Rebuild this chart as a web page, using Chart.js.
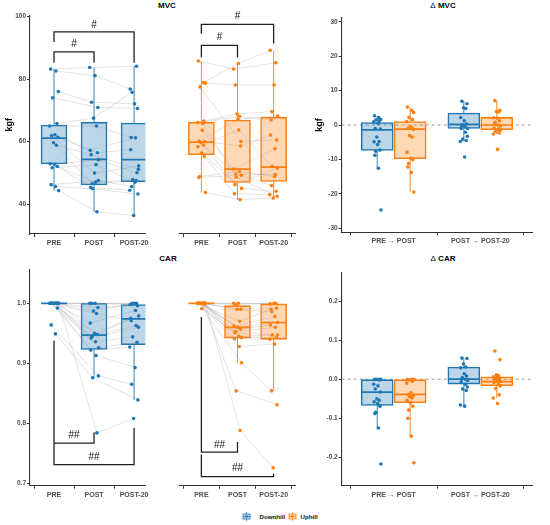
<!DOCTYPE html>
<html>
<head>
<meta charset="utf-8">
<script src="https://cdn.jsdelivr.net/npm/chart.js@4.4.1/dist/chart.umd.min.js"></script>
<style>
body{margin:0;background:#fff;width:550px;height:525px;position:relative;overflow:hidden;font-family:"Liberation Sans",Arial,sans-serif}
canvas{position:absolute}
.ttl{position:absolute;transform:translateX(-50%);font-weight:bold;font-size:8px;line-height:10px;color:#000;white-space:nowrap}
.ttl span{font-weight:normal}
.lg{position:absolute;font-weight:bold;font-size:6.2px;line-height:9px;color:#111;white-space:nowrap}
</style>
</head>
<body>
<div class="ttl" style="left:167px;top:1px">MVC</div>
<div class="ttl" style="left:443px;top:1px"><span>&Delta;</span> MVC</div>
<div class="ttl" style="left:168px;top:254px">CAR</div>
<div class="ttl" style="left:443px;top:254px"><span>&Delta;</span> CAR</div>

<canvas id="mvcDown" width="160" height="250" style="left:0;top:0"></canvas>
<canvas id="mvcUp" width="145" height="250" style="left:165px;top:0"></canvas>
<canvas id="mvcDelta" width="240" height="250" style="left:310px;top:0"></canvas>
<canvas id="carDown" width="160" height="255" style="left:0;top:255px"></canvas>
<canvas id="carUp" width="145" height="255" style="left:165px;top:255px"></canvas>
<canvas id="carDelta" width="240" height="255" style="left:310px;top:255px"></canvas>

<canvas id="icoDown" width="9" height="9" style="left:242px;top:512px"></canvas>
<div class="lg" style="left:259.5px;top:512px">Downhill</div>
<canvas id="icoUp" width="9" height="9" style="left:288px;top:512px"></canvas>
<div class="lg" style="left:300.5px;top:512px">Uphill</div>

<script>
var timeLabels = ['PRE', 'POST', 'POST-20'];
var changeLabels = ['PRE \u2192 POST', 'POST \u2192 POST-20'];
var mvcTicks = [40, 60, 80, 100];
var carTicks = [0.7, 0.8, 0.9, 1.0];
var dMvcTicks = [-30, -20, -10, 0, 10, 20, 30];
var dCarTicks = [-0.2, -0.1, 0.0, 0.1, 0.2];

// MVC (kgf), one value per participant, same order in each list
var mvcDownPre    = [83.2, 82.6, 76.0, 74.0, 65.8, 65.0, 62.2, 61.9, 61.4, 59.6, 58.8, 52.9, 52.7, 52.0, 51.6, 46.2, 45.6, 44.3];
var mvcDownPost   = [83.7, 81.1, 72.6, 70.9, 67.5, 65.0, 57.2, 49.9, 56.4, 46.5, 55.8, 47.0, 54.2, 45.3, 52.6, 47.5, 44.9, 37.5];
var mvcDownPost20 = [84.1, 76.8, 72.1, 70.6, 75.8, 61.3, 61.2, 52.2, 57.4, 47.5, 51.1, 47.8, 50.0, 44.4, 47.0, 45.6, 43.2, 36.3];
var mvcUpPre      = [85.8, 78.9, 78.7, 77.5, 66.6, 66.1, 63.6, 60.2, 60.0, 59.6, 58.9, 58.3, 56.3, 55.2, 48.8, 48.5, 65.8, 43.7];
var mvcUpPost     = [83.2, 85.0, 78.1, 60.0, 68.8, 68.0, 51.2, 67.1, 58.6, 49.6, 46.2, 63.7, 45.0, 43.3, 50.4, 49.2, 48.6, 41.4];
var mvcUpPost20   = [85.2, 89.2, 78.1, 60.5, 69.6, 66.9, 57.7, 68.2, 62.1, 49.4, 51.5, 52.0, 44.1, 43.0, 48.8, 45.9, 42.5, 41.9];

// CAR
var carDownPre    = [1, 1, 1, 1, 1, 1, 1, 1, 1, 1, 1, 1, 1, 0.992, 1, 0.964, 0.949, 1];
var carDownPost   = [1, 1, 1, 0.993, 0.987, 0.983, 0.967, 0.950, 0.948, 0.945, 0.942, 0.936, 0.926, 0.922, 0.913, 0.879, 0.876, 0.784];
var carDownPost20 = [1, 0.998, 1, 0.996, 1, 0.971, 0.988, 0.979, 0.975, 0.963, 0.960, 0.944, 0.935, 0.927, 0.893, 0.865, 0.839, 0.808];
var carUpPre      = [1, 1, 1, 1, 1, 1, 1, 1, 0.998, 1, 1, 1, 0.991, 1, 1, 1, 1, 1];
var carUpPost     = [1, 1, 0.998, 0.990, 0.990, 0.970, 0.962, 0.960, 0.957, 0.953, 0.951, 0.945, 0.943, 0.941, 0.928, 0.901, 0.854, 0.788];
var carUpPost20   = [1, 0.999, 1, 0.992, 0.986, 0.990, 0.978, 0.968, 0.964, 0.960, 0.947, 0.947, 0.943, 0.940, 0.932, 0.854, 0.831, 0.726];

// box stats per time point: [low whisker, Q1, median, Q3, high whisker]
var mvcDownBoxes = [[44.3, 52.8, 61.1, 65.3, 83.2], [37.5, 46.1, 54.3, 66.2, 83.7], [36.3, 47.1, 54.2, 65.9, 84.1]];
var mvcUpBoxes   = [[43.7, 55.8, 59.8, 66.2, 85.8], [41.4, 46.9, 51.2, 66.9, 85.0], [41.9, 47.2, 51.8, 67.8, 89.2]];
var carDownBoxes = [[1, 1, 1, 1, 1], [0.876, 0.923, 0.947, 1.0, 1.0], [0.839, 0.931, 0.974, 0.998, 1.0]];
var carUpBoxes   = [[1, 1, 1, 1, 1], [0.901, 0.942, 0.960, 0.996, 1.0], [0.854, 0.940, 0.968, 0.999, 1.0]];

// changes: A = PRE -> POST, B = POST -> POST-20
var dMvcDownA = [2.7, 2.2, 1.6, 1.5, 1.2, 0.9, 0.5, -1.0, -1.2, -3.5, -4.8, -4.9, -5.7, -7.3, -7.6, -8.8, -12.6, -24.7];
var dMvcDownB = [6.9, 6.2, 5.0, 4.8, 2.2, 1.2, 0.3, 0.0, -0.2, -0.5, -1.0, -1.0, -2.1, -3.3, -4.1, -4.5, -4.8, -9.3];
var dMvcUpA   = [5.2, 4.3, 3.6, 2.2, 1.6, 1.0, -0.5, -0.9, -1.2, -3.1, -3.5, -7.9, -9.7, -10.1, -11.2, -12.2, -13.8, -19.5];
var dMvcUpB   = [7.1, 4.3, 3.9, 3.8, 2.1, 2.0, 1.2, 0.8, 0.3, 0.0, -0.3, -0.9, -1.2, -1.5, -1.9, -2.3, -2.6, -7.1];
var dMvcDownBoxes = [[-12.6, -7.4, -1.4, 0.7, 2.7], [-4.8, -1.0, 0.2, 3.5, 6.9]];
var dMvcUpBoxes   = [[-19.5, -9.8, -1.2, 1.0, 5.2], [-2.6, -1.4, 0.0, 2.2, 7.1]];

var dCarDownA = [0, 0, 0, 0, -0.002, -0.013, -0.017, -0.025, -0.033, -0.05, -0.054, -0.058, -0.0625, -0.069, -0.085, -0.088, -0.125, -0.217];
var dCarDownB = [0.054, 0.053, 0.039, 0.031, 0.029, 0.014, 0.008, 0.004, 0, 0, -0.003, -0.008, -0.013, -0.02, -0.025, -0.029, -0.066, -0.069];
var dCarUpA   = [0, 0, 0, -0.002, -0.005, -0.01, -0.035, -0.04, -0.042, -0.045, -0.048, -0.054, -0.06, -0.069, -0.079, -0.1, -0.146, -0.214];
var dCarUpB   = [0.072, 0.05, 0.011, 0.009, 0.006, 0.004, 0.002, 0, 0, -0.003, -0.006, -0.008, -0.012, -0.017, -0.024, -0.04, -0.048, -0.062];
var dCarDownBoxes = [[-0.125, -0.067, -0.033, 0, 0], [-0.069, -0.0125, 0, 0.031, 0.054]];
var dCarUpBoxes   = [[-0.146, -0.06, -0.039, 0, 0], [-0.048, -0.017, -0.006, 0.006, 0.011]];

// significance brackets: [x1, leg1 end, x2, leg2 end, bar level] and labels [x, y, text]
var mvcDownBrackets = [[1, 85.2, 2, 85.2, 88.7], [1, 91.9, 3, 85.2, 95.1]];
var mvcUpBrackets   = [[1, 86.9, 2, 86.9, 90.8], [1, 94.5, 3, 91.4, 97.5]];
var carDownBrackets = [[1, 0.938, 2, 0.785, 0.767], [1, 0.767, 3, 0.792, 0.731]];
var carUpBrackets   = [[1, 0.977, 2, 0.769, 0.752], [1, 0.748, 3, 0.716, 0.711]];
var mvcDownMarks = [[1.5, 91.3, '#'], [2, 97.2, '#']];
var mvcUpMarks   = [[1.5, 93.3, '#'], [2, 100.1, '#']];
var carDownMarks = [[1.5, 0.780, '##'], [2, 0.744, '##']];
var carUpMarks   = [[1.5, 0.764, '##'], [2, 0.725, '##']];

// horizontal spread of the points (fraction of jitter width)
var jitter = [-0.7, 0.4, 0.9, -0.3, 0.6, -0.9, 0.2, -0.5, 0.8, -0.1, 0.5, -0.8, 0.1, 0.7, -0.4, -0.6, 0.3, 0.95];

var FONT = '"Liberation Sans", Arial, sans-serif';
var BLUE = '#1f77b4', ORANGE = '#ff7f0e';
var BLUE_FILL = 'rgba(31,119,180,0.3)', ORANGE_FILL = 'rgba(255,127,14,0.3)';

function boxSets(boxes, xs, color, fill, width) {
  var whisk = [];
  boxes.forEach(function (b, i) {
    whisk.push({x: xs[i], y: b[0]}, {x: xs[i], y: b[1]}, {x: xs[i], y: null},
               {x: xs[i], y: b[3]}, {x: xs[i], y: b[4]}, {x: xs[i], y: null});
  });
  return [
    {type: 'bar', data: boxes.map(function (b, i) { return {x: xs[i], y: [b[1], b[3]]}; }),
     backgroundColor: fill, borderColor: color, borderWidth: 0.9, borderSkipped: false,
     barThickness: width, grouped: false, order: 5},
    {type: 'line', data: whisk, borderColor: color, borderWidth: 0.9, pointRadius: 0, spanGaps: false, order: 4},
    {type: 'scatter', data: boxes.map(function (b, i) { return {x: xs[i], y: b[2]}; }),
     pointStyle: 'line', pointRadius: width / 2, borderColor: color, borderWidth: 1.7, order: 2}
  ];
}

function bracketPath(list) {
  var d = [];
  list.forEach(function (b) {
    d.push({x: b[0], y: b[1]}, {x: b[0], y: b[4]}, {x: b[2], y: b[4]}, {x: b[2], y: b[3]}, {x: b[2], y: null});
  });
  return d;
}

function markPlugin(marks) {
  return {
    id: 'marks',
    afterDatasetsDraw: function (chart) {
      var ctx = chart.ctx, x = chart.scales.x, y = chart.scales.y;
      ctx.save();
      ctx.font = '10px ' + FONT;
      ctx.fillStyle = '#111';
      ctx.textAlign = 'center';
      ctx.textBaseline = 'middle';
      marks.forEach(function (m) { ctx.fillText(m[2], x.getPixelForValue(m[0]), y.getPixelForValue(m[1])); });
      ctx.restore();
    }
  };
}

function axes(o) {
  var grid = {drawOnChartArea: false, drawTicks: true, tickLength: 3, color: '#333', lineWidth: 1};
  var border = {display: true, color: '#333', width: 1.1};
  return {
    x: {
      type: 'linear', min: o.xMin, max: o.xMax, offset: false, bounds: 'data',
      afterBuildTicks: function (s) { s.ticks = o.xTicks.map(function (v) { return {value: v}; }); },
      afterFit: function (s) { s.height = 16; },
      ticks: {callback: function (v) { return o.xLabels[o.xTicks.indexOf(v)]; },
              font: {family: FONT, size: 7, weight: 'bold'}, color: '#4d4d4d', padding: 2, maxRotation: 0, autoSkip: false},
      grid: grid, border: border
    },
    y: {
      type: 'linear', display: o.showY, min: o.yMin, max: o.yMax, bounds: 'data',
      afterBuildTicks: function (s) { s.ticks = o.yTicks.map(function (v) { return {value: v}; }); },
      afterFit: function (s) { s.width = o.yWidth; },
      ticks: {callback: o.yFmt, font: {family: FONT, size: 6.5, weight: 'bold'}, color: '#4d4d4d', padding: 1},
      grid: grid, border: border,
      title: {display: !!o.yTitle, text: o.yTitle || '', font: {family: FONT, size: 9, weight: 'bold'},
              color: '#000', padding: {top: 4, bottom: 0}}
    }
  };
}

function draw(id, datasets, o, marks) {
  return new Chart(document.getElementById(id), {
    type: 'scatter',
    data: {datasets: datasets},
    options: {
      responsive: false, animation: false, events: [],
      layout: {padding: o.pad},
      plugins: {legend: {display: false}, tooltip: {enabled: false}},
      scales: axes(o)
    },
    plugins: [markPlugin(marks || [])]
  });
}

function groupPanel(id, series, boxes, brackets, marks, color, fill, o) {
  var points = [], pairs = [];
  for (var i = 0; i < series[0].length; i++) {
    for (var t = 0; t < 3; t++) {
      var p = {x: t + 1 + jitter[(i + 5 * t) % jitter.length] * 0.12, y: series[t][i]};
      points.push(p);
      pairs.push({x: p.x, y: p.y});
    }
    pairs.push({x: 3, y: null});
  }
  var sets = boxSets(boxes, [1, 2, 3], color, fill, 26).concat([
    {type: 'line', data: pairs, borderColor: 'rgba(150,150,150,0.45)', borderWidth: 0.6, pointRadius: 0, spanGaps: false, order: 3},
    {type: 'scatter', data: points, pointRadius: 1.8, backgroundColor: color, borderColor: color, borderWidth: 0, order: 1},
    {type: 'line', data: bracketPath(brackets), borderColor: '#222', borderWidth: 1.3, pointRadius: 0, spanGaps: false, clip: false, order: 0}
  ]);
  o.xTicks = [1, 2, 3];
  o.xLabels = timeLabels;
  return draw(id, sets, o, marks);
}

function deltaPanel(id, down, up, downBoxes, upBoxes, o) {
  var xsDown = [0.81, 1.81], xsUp = [1.19, 2.19];
  function pts(groups, xs) {
    var d = [];
    groups.forEach(function (g, k) {
      g.forEach(function (v, i) { d.push({x: xs[k] + jitter[(i + 7 * k) % jitter.length] * 0.045, y: v}); });
    });
    return d;
  }
  var sets = [
    {type: 'line', data: [{x: o.xMin, y: 0}, {x: o.xMax, y: 0}], borderColor: '#9a9a9a', borderWidth: 1,
     borderDash: [3, 3], pointRadius: 0, order: 6}
  ].concat(boxSets(downBoxes, xsDown, BLUE, BLUE_FILL, 32), boxSets(upBoxes, xsUp, ORANGE, ORANGE_FILL, 32), [
    {type: 'scatter', data: pts(down, xsDown), pointRadius: 1.8, backgroundColor: BLUE, borderColor: BLUE, borderWidth: 0, order: 1},
    {type: 'scatter', data: pts(up, xsUp), pointRadius: 1.8, backgroundColor: ORANGE, borderColor: ORANGE, borderWidth: 0, order: 1}
  ]);
  o.xTicks = [1, 2];
  o.xLabels = changeLabels;
  o.xMin = 0.4; o.xMax = 2.6;
  return draw(id, sets, o, []);
}

var intFmt = function (v) { return String(v); };
var oneDec = function (v) { return v.toFixed(1); };

groupPanel('mvcDown', [mvcDownPre, mvcDownPost, mvcDownPost20], mvcDownBoxes, mvcDownBrackets, mvcDownMarks, BLUE, BLUE_FILL,
  {xMin: 0.4, xMax: 3.28, yMin: 30.4, yMax: 100.3, yTicks: mvcTicks, yFmt: intFmt, yWidth: 30, showY: true, yTitle: 'kgf',
   pad: {left: 0, right: 7, top: 15.7, bottom: 0}});
groupPanel('mvcUp', [mvcUpPre, mvcUpPost, mvcUpPost20], mvcUpBoxes, mvcUpBrackets, mvcUpMarks, ORANGE, ORANGE_FILL,
  {xMin: 0.4, xMax: 3.6, yMin: 30.4, yMax: 100.3, yTicks: mvcTicks, yFmt: intFmt, yWidth: 0, showY: false,
   pad: {left: 6, right: 1.4, top: 15.7, bottom: 0}});
deltaPanel('mvcDelta', [dMvcDownA, dMvcDownB], [dMvcUpA, dMvcUpB], dMvcDownBoxes, dMvcUpBoxes,
  {xMin: 0.4, xMax: 2.6, yMin: -31.2, yMax: 31.2, yTicks: dMvcTicks, yFmt: intFmt, yWidth: 31.7, showY: true, yTitle: 'kgf',
   pad: {left: 0, right: 3.5, top: 15.7, bottom: 0}});

groupPanel('carDown', [carDownPre, carDownPost, carDownPost20], carDownBoxes, carDownBrackets, carDownMarks, BLUE, BLUE_FILL,
  {xMin: 0.4, xMax: 3.28, yMin: 0.696, yMax: 1.056, yTicks: carTicks, yFmt: oneDec, yWidth: 30, showY: true,
   pad: {left: 0, right: 7, top: 12.7, bottom: 8.3}});
groupPanel('carUp', [carUpPre, carUpPost, carUpPost20], carUpBoxes, carUpBrackets, carUpMarks, ORANGE, ORANGE_FILL,
  {xMin: 0.4, xMax: 3.6, yMin: 0.696, yMax: 1.056, yTicks: carTicks, yFmt: oneDec, yWidth: 0, showY: false,
   pad: {left: 6, right: 1.4, top: 12.7, bottom: 8.3}});
deltaPanel('carDelta', [dCarDownA, dCarDownB], [dCarUpA, dCarUpB], dCarDownBoxes, dCarUpBoxes,
  {xMin: 0.4, xMax: 2.6, yMin: -0.2725, yMax: 0.2725, yTicks: dCarTicks, yFmt: oneDec, yWidth: 31.7, showY: true,
   pad: {left: 0, right: 3.5, top: 12.7, bottom: 8.3}});

// legend keys: tiny box-plot glyphs
function legendKey(id, color, fill) {
  var c = document.getElementById(id).getContext('2d');
  c.strokeStyle = color; c.lineWidth = 0.8;
  c.beginPath(); c.moveTo(4.5, 0); c.lineTo(4.5, 9); c.stroke();
  c.fillStyle = '#fff'; c.fillRect(1, 2, 7, 5);
  c.fillStyle = fill; c.fillRect(1, 2, 7, 5);
  c.strokeRect(1, 2, 7, 5);
  c.beginPath(); c.moveTo(1, 4.5); c.lineTo(8, 4.5); c.stroke();
  c.fillStyle = color; c.beginPath(); c.arc(4.5, 4.5, 1.2, 0, Math.PI * 2); c.fill();
}
legendKey('icoDown', BLUE, BLUE_FILL);
legendKey('icoUp', ORANGE, ORANGE_FILL);
</script>
</body>
</html>
